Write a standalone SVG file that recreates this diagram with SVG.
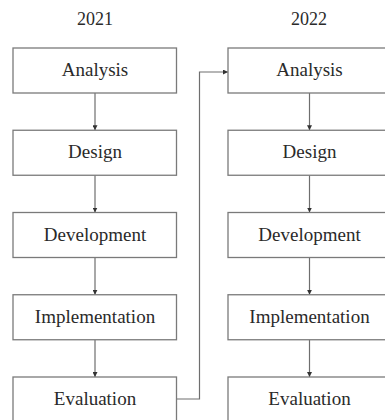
<svg xmlns="http://www.w3.org/2000/svg" width="385" height="420" viewBox="0 0 385 420">
<defs>
<style>
.box{fill:#fff;stroke:#7a7a7a;stroke-width:1.3}
.lbl{font-family:'Liberation Serif','DejaVu Serif',serif;font-size:19px;fill:#2a2a2a;text-anchor:middle}
.yr{font-family:'Liberation Serif','DejaVu Serif',serif;font-size:18px;fill:#2a2a2a;text-anchor:middle}
.con{fill:none;stroke:#6e6e6e;stroke-width:1.2}
</style>
<marker id="ah" viewBox="0 0 6 6" refX="6" refY="3" markerWidth="5" markerHeight="5" markerUnits="userSpaceOnUse" orient="auto">
<path d="M0,0 L6,3 L0,6 Z" fill="#333"/>
</marker>
</defs>
<rect width="385" height="420" fill="#fff"/>
<text class="yr" x="95" y="25" font-family="Liberation Serif, serif">2021</text>
<text class="yr" x="309" y="25" font-family="Liberation Serif, serif">2022</text>
<g id="connectors">
<line class="con" x1="95" y1="93" x2="95" y2="130.25" marker-end="url(#ah)"/>
<line class="con" x1="95" y1="175.25" x2="95" y2="212.5" marker-end="url(#ah)"/>
<line class="con" x1="95" y1="257.5" x2="95" y2="294.75" marker-end="url(#ah)"/>
<line class="con" x1="95" y1="339.75" x2="95" y2="377" marker-end="url(#ah)"/>
<line class="con" x1="309.5" y1="93" x2="309.5" y2="130.25" marker-end="url(#ah)"/>
<line class="con" x1="309.5" y1="175.25" x2="309.5" y2="212.5" marker-end="url(#ah)"/>
<line class="con" x1="309.5" y1="257.5" x2="309.5" y2="294.75" marker-end="url(#ah)"/>
<line class="con" x1="309.5" y1="339.75" x2="309.5" y2="377" marker-end="url(#ah)"/>
<polyline class="con" points="176.5,399 199.5,399 199.5,72 228,72" marker-end="url(#ah)"/>
</g>
<g id="a2021"><rect class="box" x="13" y="48" width="163.5" height="45"/><text class="lbl" x="95" y="76">Analysis</text></g>
<g id="d2021"><rect class="box" x="13" y="130.25" width="163.5" height="45"/><text class="lbl" x="95" y="158">Design</text></g>
<g id="dev2021"><rect class="box" x="13" y="212.5" width="163.5" height="45"/><text class="lbl" x="95" y="241">Development</text></g>
<g id="i2021"><rect class="box" x="13" y="294.75" width="163.5" height="45"/><text class="lbl" x="95" y="323">Implementation</text></g>
<g id="e2021"><rect class="box" x="13" y="377" width="163.5" height="45"/><text class="lbl" x="95" y="405">Evaluation</text></g>
<g id="a2022"><rect class="box" x="228" y="48" width="163.5" height="45"/><text class="lbl" x="309.5" y="76">Analysis</text></g>
<g id="d2022"><rect class="box" x="228" y="130.25" width="163.5" height="45"/><text class="lbl" x="309.5" y="158">Design</text></g>
<g id="dev2022"><rect class="box" x="228" y="212.5" width="163.5" height="45"/><text class="lbl" x="309.5" y="241">Development</text></g>
<g id="i2022"><rect class="box" x="228" y="294.75" width="163.5" height="45"/><text class="lbl" x="309.5" y="323">Implementation</text></g>
<g id="e2022"><rect class="box" x="228" y="377" width="163.5" height="45"/><text class="lbl" x="309.5" y="405">Evaluation</text></g>
</svg>
